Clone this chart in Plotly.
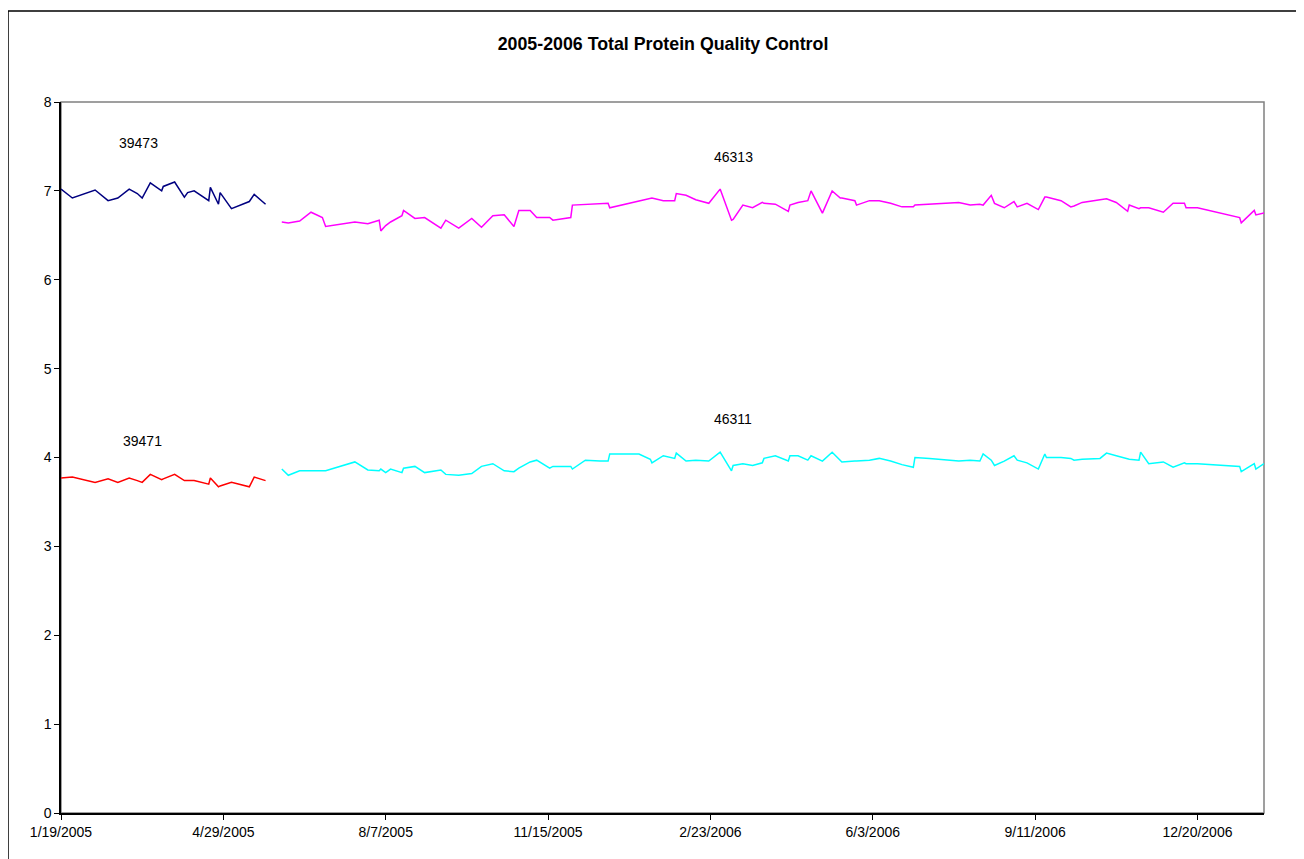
import plotly.graph_objects as go

# ---- data ----
dates_2005 = ["2005-01-19", "2005-01-26", "2005-02-09", "2005-02-17", "2005-02-23",
              "2005-03-02", "2005-03-07", "2005-03-10", "2005-03-15", "2005-03-22",
              "2005-03-23", "2005-03-30", "2005-04-05", "2005-04-07", "2005-04-11",
              "2005-04-20", "2005-04-21", "2005-04-26", "2005-04-27", "2005-05-04",
              "2005-05-15", "2005-05-18", "2005-05-25"]
lot_39473 = [7.02, 6.92, 7.01, 6.89, 6.92, 7.02, 6.97, 6.92, 7.09, 7.00,
             7.05, 7.10, 6.93, 6.98, 7.00, 6.89, 7.04, 6.85, 6.98, 6.80,
             6.88, 6.96, 6.85]
lot_39471 = [3.77, 3.78, 3.72, 3.76, 3.72, 3.77, 3.74, 3.72, 3.81, 3.75,
             3.76, 3.81, 3.74, 3.74, 3.74, 3.70, 3.77, 3.67, 3.68, 3.72,
             3.67, 3.78, 3.74]

dates_2006 = ["2005-06-04", "2005-06-08", "2005-06-15", "2005-06-22", "2005-06-29",
              "2005-07-01", "2005-07-19", "2005-07-27", "2005-08-03", "2005-08-04",
              "2005-08-07", "2005-08-10", "2005-08-17", "2005-08-18", "2005-08-25",
              "2005-08-31", "2005-09-10", "2005-09-13", "2005-09-21", "2005-09-29",
              "2005-10-05", "2005-10-12", "2005-10-19", "2005-10-25", "2005-10-28",
              "2005-11-04", "2005-11-08", "2005-11-16", "2005-11-18", "2005-11-29",
              "2005-11-30", "2005-12-08", "2005-12-17", "2005-12-22", "2005-12-23",
              "2006-01-10", "2006-01-17", "2006-01-18", "2006-01-25", "2006-02-01",
              "2006-02-02", "2006-02-08", "2006-02-14", "2006-02-22", "2006-03-01",
              "2006-03-07", "2006-03-08", "2006-03-09", "2006-03-15", "2006-03-21",
              "2006-03-27", "2006-03-28", "2006-04-04", "2006-04-12", "2006-04-13",
              "2006-04-18", "2006-04-24", "2006-04-26", "2006-05-03", "2006-05-09",
              "2006-05-14", "2006-05-15", "2006-05-23", "2006-05-24", "2006-06-01",
              "2006-06-07", "2006-06-14", "2006-06-21", "2006-06-28", "2006-06-29",
              "2006-07-08", "2006-07-26", "2006-08-02", "2006-08-08", "2006-08-10",
              "2006-08-15", "2006-08-17", "2006-08-23", "2006-08-29", "2006-08-31",
              "2006-09-06", "2006-09-13", "2006-09-17", "2006-09-18", "2006-09-27",
              "2006-10-03", "2006-10-05", "2006-10-10", "2006-10-21", "2006-10-25",
              "2006-10-31", "2006-11-07", "2006-11-08", "2006-11-14", "2006-11-15",
              "2006-11-20", "2006-11-29", "2006-12-05", "2006-12-12", "2006-12-13",
              "2006-12-20", "2007-01-15", "2007-01-16", "2007-01-24", "2007-01-25",
              "2007-01-30"]
lot_46313 = [6.65, 6.64, 6.66, 6.76, 6.70, 6.60, 6.65, 6.63, 6.67, 6.55,
             6.61, 6.65, 6.72, 6.78, 6.69, 6.70, 6.58, 6.67, 6.58, 6.69,
             6.59, 6.72, 6.73, 6.60, 6.78, 6.78, 6.70, 6.70, 6.67, 6.70,
             6.84, 6.85, 6.86, 6.86, 6.81, 6.89, 6.92, 6.92, 6.89, 6.89,
             6.97, 6.95, 6.90, 6.86, 7.02, 6.71, 6.67, 6.68, 6.84, 6.81,
             6.87, 6.86, 6.85, 6.77, 6.84, 6.87, 6.89, 7.00, 6.75, 7.00,
             6.92, 6.92, 6.89, 6.84, 6.89, 6.89, 6.86, 6.82, 6.82, 6.84,
             6.85, 6.87, 6.84, 6.85, 6.84, 6.95, 6.86, 6.81, 6.88, 6.82,
             6.86, 6.79, 6.93, 6.93, 6.89, 6.82, 6.83, 6.87, 6.90, 6.91,
             6.87, 6.77, 6.84, 6.80, 6.81, 6.81, 6.76, 6.86, 6.86, 6.81,
             6.81, 6.70, 6.64, 6.78, 6.73, 6.75]
lot_46311 = [3.87, 3.80, 3.85, 3.85, 3.85, 3.85, 3.95, 3.86, 3.85, 3.87,
             3.83, 3.87, 3.83, 3.88, 3.90, 3.83, 3.86, 3.81, 3.80, 3.82,
             3.90, 3.93, 3.85, 3.84, 3.88, 3.95, 3.97, 3.88, 3.90, 3.90,
             3.87, 3.97, 3.96, 3.96, 4.04, 4.04, 3.98, 3.94, 4.02, 3.99,
             4.05, 3.96, 3.97, 3.96, 4.06, 3.88, 3.85, 3.91, 3.93, 3.91,
             3.94, 3.99, 4.02, 3.96, 4.02, 4.02, 3.97, 4.02, 3.96, 4.06,
             3.96, 3.95, 3.96, 3.96, 3.97, 3.99, 3.96, 3.92, 3.89, 4.00,
             3.99, 3.96, 3.97, 3.96, 4.04, 3.97, 3.91, 3.96, 4.02, 3.97,
             3.94, 3.87, 4.04, 4.00, 4.00, 3.99, 3.97, 3.98, 3.99, 4.05,
             4.02, 3.99, 3.98, 3.97, 4.06, 3.93, 3.95, 3.89, 3.94, 3.93,
             3.93, 3.90, 3.84, 3.93, 3.87, 3.93]

tick_dates = ["2005-01-19", "2005-04-29", "2005-08-07", "2005-11-15",
              "2006-02-23", "2006-06-03", "2006-09-11", "2006-12-20"]
tick_labels = ["1/19/2005", "4/29/2005", "8/7/2005", "11/15/2005",
               "2/23/2006", "6/3/2006", "9/11/2006", "12/20/2006"]

label_text = ["39473", "39471", "46313", "46311"]
label_x = ["2005-03-08", "2005-03-10", "2006-03-09", "2006-03-09"]
label_y = [7.54, 4.19, 7.38, 4.43]

FONT = "Liberation Sans, Arial, sans-serif"

# page body has an 8px margin; the figure is sized to land on the reference
W, H = 1296, 851
L, R, T, B = 53, 40, 94, 46

fig = go.Figure()
for x, y, c in [(dates_2005, lot_39473, "#000080"),
                (dates_2005, lot_39471, "#FF0000"),
                (dates_2006, lot_46313, "#FF00FF"),
                (dates_2006, lot_46311, "#00FFFF")]:
    fig.add_trace(go.Scatter(x=x, y=y, mode="lines",
                             line=dict(color=c, width=1.5), showlegend=False,
                             hoverinfo="x+y"))

for t, x, y in zip(label_text, label_x, label_y):
    fig.add_annotation(x=x, y=y, text=t, showarrow=False,
                       font=dict(family=FONT, size=14, color="black"))

pw, ph = W - L - R, H - T - B
# plot-area border (grey) and outer chart border (black)
fig.add_shape(type="rect", xref="paper", yref="paper", x0=0, y0=0, x1=1, y1=1,
              line=dict(color="#808080", width=1.5), layer="below")
fig.add_shape(type="rect", xref="paper", yref="paper",
              x0=-L / pw, y0=-(B + 20) / ph, x1=1 + (R + 20) / pw, y1=1 + (T - 3) / ph,
              line=dict(color="black", width=1.5), layer="below")

fig.update_layout(
    width=W, height=H,
    margin=dict(l=L, r=R, t=T, b=B),
    paper_bgcolor="white", plot_bgcolor="white",
    title=dict(text="<b>2005-2006 Total Protein Quality Control</b>",
               x=655 / W, xanchor="center",
               y=1 - 36 / H, yanchor="middle",
               font=dict(family=FONT, size=17.8, color="black")),
    font=dict(family=FONT, size=14, color="black"),
    xaxis=dict(type="date", range=["2005-01-19", "2007-01-30"],
               tickvals=tick_dates, ticktext=tick_labels,
               showgrid=False, zeroline=False, showline=True,
               linecolor="black", linewidth=1.5, ticks="outside",
               ticklen=5, tickcolor="black", tickfont=dict(size=14)),
    yaxis=dict(range=[0, 8], dtick=1, showgrid=False, zeroline=False,
               showline=True, linecolor="black", linewidth=1.5,
               ticks="outside", ticklen=5, tickcolor="black",
               tickfont=dict(size=14)),
)

fig.write_html("out.html")
